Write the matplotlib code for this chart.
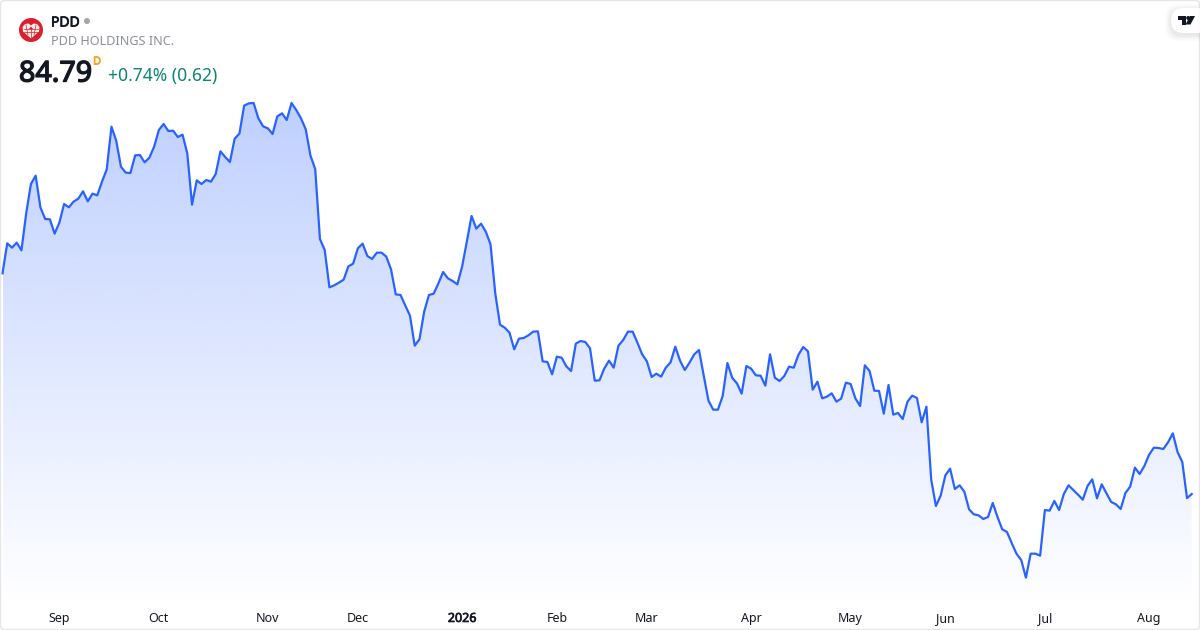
import numpy as np
import matplotlib
matplotlib.use("Agg")
from matplotlib import pyplot as plt
from matplotlib import patheffects as pe
from matplotlib.patches import Circle, FancyBboxPatch, Polygon

# Daily closes
prices_a = [117.89, 122.39, 121.74, 122.49, 121.34, 126.89, 131.29, 132.54, 127.79, 126.04, 125.99, 123.84,
            125.49, 128.29, 127.79, 128.64, 129.09, 130.19, 128.69, 129.84, 129.59, 131.64, 133.49, 139.89,
            137.79, 133.89, 132.99, 132.94, 135.59, 135.64, 134.54, 135.24, 136.89, 139.39, 140.29, 139.24,
            139.29, 138.34, 138.69, 135.89, 128.19, 131.84, 131.29, 131.89, 131.64, 132.79, 136.19, 135.34,
            134.59, 138.09, 138.84, 143.04, 143.39, 143.44, 141.14, 139.94, 139.64, 138.79, 141.44, 141.89,
            140.89, 143.44, 142.39, 141.14, 139.49, 135.54, 133.54, 123.04, 121.39, 115.79, 116.09, 116.49]
prices_b = [116.94, 118.94, 119.34, 121.64, 122.34, 120.49, 120.04, 120.99, 120.99, 120.39, 118.49, 114.74,
            114.64, 113.09, 111.54, 107.04, 107.99, 112.14, 114.64, 114.84, 116.39, 118.09, 117.14, 116.74,
            116.24, 118.89, 122.64, 126.49, 124.59, 125.34, 124.14, 122.24, 114.89, 110.19, 109.74, 108.99,
            106.49, 108.09, 108.19, 108.59, 109.14, 109.19, 104.69, 104.59, 102.74, 105.39, 105.24, 103.94,
            103.24, 107.34, 107.74, 107.59]
prices_c = [106.64, 101.79, 101.84, 103.59, 104.79, 103.74, 107.04, 107.89, 109.14, 109.14, 107.49, 105.74,
            104.69, 102.34, 102.84, 102.39, 103.74, 104.54, 106.89, 104.79, 103.39, 104.49, 105.74, 106.39,
            102.54, 98.79, 97.44, 97.44, 99.49, 104.44, 102.24, 101.39, 99.84, 103.99, 103.59, 102.59,
            102.54, 101.04, 105.74, 102.24, 101.74, 102.49, 103.89, 103.74, 105.69, 106.84, 106.19, 100.44,
            101.64, 99.14, 99.39, 99.89, 98.64, 99.09, 101.49, 101.29, 99.14, 97.99, 104.09, 103.24,
            100.29, 100.24, 96.84, 101.14, 96.69, 96.94, 96.04]
prices_d = [98.64, 99.54, 99.19, 95.54, 97.89, 86.99, 82.99, 84.54, 87.59, 88.59, 85.54, 86.09,
            85.14, 82.49, 81.74, 81.59, 81.04, 81.34, 83.44, 81.34, 79.49, 79.09, 77.44, 75.84,
            74.89, 72.24, 75.84, 75.84, 75.54, 82.39, 82.29, 83.74, 82.39, 84.79, 86.09, 85.39,
            84.69, 83.94, 85.99, 86.99, 84.14, 86.24, 84.89, 83.59, 83.24, 82.54, 84.94, 85.89,
            88.74, 87.79, 88.99, 90.69, 91.74, 91.69, 91.54, 92.54, 93.89, 91.09, 89.59, 84.17, 84.79]

# Trading day index of the first session of each month
month_index = [12, 33, 56, 75, 97, 117, 136, 158, 179, 199, 220, 242]
month_labels = ["Sep", "Oct", "Nov", "Dec", "2026", "Feb", "Mar", "Apr", "May", "Jun", "Jul", "Aug"]

symbol = "PDD"
company = "PDD HOLDINGS INC."
last_price = "84.79"
change_text = "+0.74% (0.62)"

line_color = "#2962FF"
font = ["Noto Sans", "DejaVu Sans"]
y_low, y_high = 64.39, 158.89

plt.rcParams["font.family"] = font


# Noto Sans here has one weight only, so thicken the glyphs with a stroke
def embolden(text, width):
    text.set_path_effects([pe.withStroke(linewidth=width, foreground=text.get_color())])


prices = np.array(prices_a + prices_b + prices_c + prices_d)
days = np.arange(len(prices))

fig = plt.figure(figsize=(12, 6.3), dpi=100, facecolor="white")

# Price pane fills the whole figure, the labels sit inside it
ax = fig.add_axes([0, 0, 1, 1])
ax.set_xlim(-0.528, 252.74)
ax.set_ylim(y_low, y_high)
ax.patch.set_visible(False)
for spine in ax.spines.values():
    spine.set_visible(False)
ax.set_yticks([])

ax.set_xticks(month_index)
ax.set_xticklabels(month_labels, fontsize=9.0, color="#131722")
ax.tick_params(axis="x", length=0, pad=-13)
for label in ax.get_xticklabels():
    if label.get_text() == "2026":
        embolden(label, 0.5)

# Area under the line: vertical gradient clipped to the polygon
floor = y_low + 24 * 0.15
area = ax.fill_between(days, prices, floor, color="none")
grad = np.zeros((256, 1, 4))
grad[..., 0] = 41 / 255
grad[..., 1] = 98 / 255
grad[..., 2] = 1.0
grad[..., 3] = np.linspace(0.3, 0.0, 256)[:, None]
img = ax.imshow(grad, extent=[days[0], days[-1], floor, prices.max()], aspect="auto",
                origin="upper", interpolation="bilinear", zorder=1)
img.set_clip_path(area.get_paths()[0], transform=ax.transData)
ax.set_xlim(-0.528, 252.74)
ax.set_ylim(y_low, y_high)

ax.plot(days, prices, color=line_color, lw=1.6, solid_joinstyle="round", zorder=2)

# Overlay in pixel coordinates for the header and the frame
over = fig.add_axes([0, 0, 1, 1])
over.set_xlim(0, 1200)
over.set_ylim(630, 0)
over.axis("off")

over.add_patch(FancyBboxPatch((0.5, 0.5), 1199, 629, boxstyle="round,pad=0,rounding_size=4",
                              fc="none", ec="#e6e6e8", lw=1))

# Logo
over.add_patch(Circle((31, 30), 12, fc="#d9202e", ec="none"))
heart = [(31, 38.5), (23, 31.5), (22.5, 27), (25, 24), (28.5, 23.5), (31, 25.5),
         (33.5, 23.5), (37, 24), (39.5, 27), (39, 31.5)]
over.add_patch(Polygon(heart, closed=True, fc="#fbeaec", ec="none"))
over.add_patch(Polygon([(31, 26.5), (28.5, 29.5), (31, 29), (33.5, 29.5)], closed=True, fc="#d9202e", ec="none"))
for x0, y0, x1, y1 in [(24, 29, 38, 29), (31, 29, 31, 38), (26, 25, 28, 35), (36, 25, 34, 35), (24, 32, 38, 32)]:
    over.plot([x0, x1], [y0, y1], color="#d9202e", lw=0.5)

symbol_text = over.text(51, 23, symbol, fontsize=10, color="#131722", va="center", ha="left")
embolden(symbol_text, 0.55)
over.add_patch(Circle((87, 21), 3, fc="#a3a6af", ec="none"))
over.text(51, 41.5, company, fontsize=9.1, color="#8a8e98", va="center", ha="left")
price_text = over.text(19, 74, last_price, fontsize=20.6, color="#131722", va="center", ha="left")
embolden(price_text, 1.0)
interval_text = over.text(93, 62, "D", fontsize=8, color="#f7a21b", va="center", ha="left")
embolden(interval_text, 0.5)
over.text(108, 76.5, change_text, fontsize=12.6, color="#0c8472", va="center", ha="left")

# TradingView badge in the corner
for grow, alpha in zip([6, 4.5, 3, 1.5], [0.012, 0.018, 0.025, 0.03]):
    over.add_patch(FancyBboxPatch((1171 - grow, 8 - grow + 2), 60 + grow, 25 + 2 * grow,
                                  boxstyle="round,pad=0,rounding_size=13", fc="black", ec="none",
                                  alpha=alpha))
over.add_patch(FancyBboxPatch((1171, 8), 60, 25, boxstyle="round,pad=0,rounding_size=12.5",
                              fc="white", ec="none"))
over.add_patch(Polygon([(1178, 16), (1186, 16), (1186, 24.5), (1182, 24.5), (1182, 20), (1178, 20)],
                       closed=True, fc="#131722", ec="none"))
over.add_patch(Circle((1188.2, 18), 2, fc="#131722", ec="none"))
over.add_patch(Polygon([(1190, 16), (1195, 16), (1190.5, 24.5), (1185.5, 24.5)], closed=True, fc="#131722", ec="none"))
over.plot([1199.5, 1199.5], [0, 630], color="#e6e6e8", lw=1)

fig.savefig("out.png", dpi=100)
plt.close(fig)
